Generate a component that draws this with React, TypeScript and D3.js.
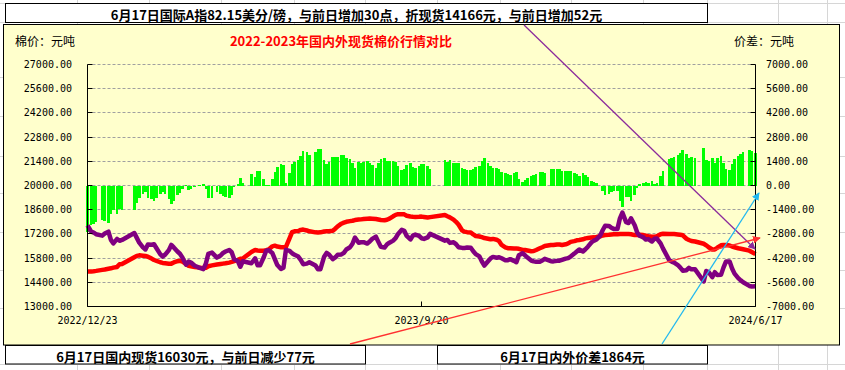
import React, { useEffect, useRef } from "react";
import * as d3 from "d3";

// trading days sampled from the chart (month -> days)
const tradeDays: [string, number[]][] = [
  ["2022-12", [23, 26, 28, 30]],
  ["2023-01", [4, 6, 9, 11, 13, 16, 18, 20, 30]],
  ["2023-02", [1, 3, 6, 8, 10, 13, 15, 17, 20, 22, 24, 27]],
  ["2023-03", [1, 3, 6, 8, 10, 13, 15, 17, 20, 22, 24, 27, 29, 31]],
  ["2023-04", [3, 7, 10, 12, 14, 17, 19, 21, 24, 26, 28]],
  ["2023-05", [5, 8, 10, 12, 15, 17, 19, 22, 24, 26, 29, 31]],
  ["2023-06", [2, 5, 7, 9, 12, 14, 16, 19, 21, 26, 28, 30]],
  ["2023-07", [3, 5, 7, 10, 12, 14, 17, 19, 21, 24, 26, 28, 31]],
  ["2023-08", [2, 4, 7, 9, 11, 14, 16, 18, 21, 23, 25, 28, 30]],
  ["2023-09", [1, 4, 6, 8, 11, 13, 15, 18, 20, 22, 25, 27]],
  ["2023-10", [9, 11, 13, 16, 18, 20, 23, 25, 27, 30]],
  ["2023-11", [1, 3, 6, 8, 10, 13, 15, 17, 20, 22, 24, 27, 29]],
  ["2023-12", [1, 4, 6, 8, 11, 13, 15, 18, 20, 22, 25, 27, 29]],
  ["2024-01", [3, 5, 8, 10, 12, 15, 17, 19, 22, 24, 26, 29, 31]],
  ["2024-02", [2, 5, 7, 9, 12, 14, 16, 19, 21, 23, 26, 28]],
  ["2024-03", [1, 4, 6, 8, 11, 13, 15, 18, 20, 22, 25, 27, 29]],
  ["2024-04", [1, 3, 8, 10, 12, 15, 17, 19, 22, 24, 26, 29]],
  ["2024-05", [6, 8, 10, 13, 15, 17, 20, 22, 24, 27, 29, 31]],
  ["2024-06", [3, 5, 7, 12, 14, 17]],
];

// 国内现货 (red)
const domestic = [
  15020, 15030, 15040, 15060,
  15120, 15140, 15180, 15210, 15250, 15290, 15440, 15460, 15850,
  15930, 15960, 15940, 15920, 15880, 15770, 15690, 15640, 15560, 15520, 15500, 15470,
  15480, 15550, 15620, 15640, 15600, 15440, 15360, 15330, 15290, 15270, 15250, 15220, 15240, 15330,
  15380, 15430, 15460, 15480, 15500, 15540, 15580, 15630, 15700, 15760, 15780,
  16150, 16270, 16240, 16230, 16230, 16260, 16300, 16480, 16520, 16470, 16430, 16430,
  16450, 16950, 17300, 17350, 17370, 17430, 17450, 17400, 17350, 17290, 17280, 17290,
  17340, 17350, 17350, 17380, 17500, 17640, 17790, 17850, 17900, 17940, 17960, 18000, 18030,
  18040, 18060, 18080, 18090, 18080, 18060, 18030, 18000, 17990, 18020, 18080, 18220, 18300,
  18340, 18340, 18330, 18250, 18210, 18190, 18180, 18190, 18200, 18180, 18150, 18170,
  18290, 18220, 18160, 18030, 17900, 17740, 17400, 17330, 17300, 17280,
  17170, 17080, 17050, 17010, 16960, 16920, 16890, 16910, 16860, 16780, 16560, 16420, 16370,
  16370, 16350, 16350, 16340, 16270, 16270, 16240, 16200, 16210, 16270, 16370, 16430, 16500,
  16560, 16560, 16590, 16590, 16560, 16600, 16650, 16740, 16780, 16830, 16850, 16890, 16940,
  16960, 16990, 17000, 17020, 17060, 17110, 17140, 17150, 17170, 17180, 17180, 17200,
  17200, 17200, 17190, 17180, 17130, 17140, 17150, 17130, 17100, 17070, 17040, 17030, 17060,
  17180, 17210, 17200, 17200, 17190, 17170, 17150, 17120, 16920, 16850, 16790, 16760,
  16630, 16540, 16430, 16300, 16300, 16400, 16540, 16560, 16560, 16530, 16470, 16430,
  16370, 16340, 16310, 16230, 16150, 16030,
];

// 国际A指折现货 (purple)
const international = [
  17700, 17330, 17280, 17180,
  17100, 17220, 17330, 16850, 16650, 16910, 16800, 16850, 17250,
  16970, 16690, 16420, 16300, 16590, 16570, 16600, 16370, 16030, 15890, 16000, 16260,
  16560, 16420, 16180, 16050, 15830, 15420, 15600, 15540, 15360, 15300, 15230, 15160, 15470, 16040,
  16120, 15830, 15950, 16100, 16180, 16270, 16140, 15730, 15630, 15300, 15620,
  15500, 15790, 15380, 15380, 15850, 16230, 16260, 16090, 15740, 15400, 15170, 15240,
  16280, 16220, 16080, 15990, 15890, 15700, 15450, 15480, 15560, 15370, 15150, 15160,
  15880, 16100, 16000, 15740, 15840, 16000, 16010, 16100, 16300, 16430, 16630, 16990, 16690,
  16720, 16720, 16640, 16760, 16910, 17040, 16740, 16450, 16410, 16590, 16690, 16810, 16950,
  17200, 17440, 17380, 17080, 16880, 17100, 17160, 17090, 16950, 16910, 17000, 17200,
  16810, 16850, 16680, 16720, 16610, 16430, 16390, 16390, 16410, 16400,
  16200, 16030, 15900, 15600, 15370, 15620, 15780, 15870, 15820, 15850, 15790, 15680, 15680,
  15740, 15640, 15560, 15970, 16080, 15960, 15830, 15660, 15610, 15590, 15590, 15660, 15760,
  15620, 15610, 15640, 15650, 15700, 15770, 15800, 15890, 16060, 16180, 16300, 16180, 16310,
  16460, 16720, 16810, 16880, 17100, 17410, 17670, 17660, 17560, 17490, 17490, 18100,
  18430, 17880, 17830, 18100, 17700, 17280, 17090, 17000, 16870, 16900, 16760, 16920, 16930,
  16650, 16350, 15680, 15600, 15540, 15400, 15250, 15070, 15100, 15240, 15150, 15150,
  14450, 15050, 14990, 14700, 14985, 14820, 14830, 15250, 15600, 15610, 15200, 14900,
  14640, 14510, 14400, 14190, 14160, 14166,
];

const leftTicks = [13000, 14400, 15800, 17200, 18600, 20000, 21400, 22800, 24200, 25600, 27000];
const rightTicks = [-7000, -5600, -4200, -2800, -1400, 0, 1400, 2800, 4200, 5600, 7000];
const xTickDates = ["2022-12-23", "2023-09-20", "2024-06-17"];
const xTickLabels = ["2022/12/23", "2023/9/20", "2024/6/17"];

const title = "2022-2023年国内外现货棉价行情对比";
const topNote = "6月17日国际A指82.15美分/磅，与前日增加30点，折现货14166元，与前日增加52元";
const leftNote = "6月17日国内现货16030元，与前日减少77元";
const rightNote = "6月17日内外价差1864元";

// spreadsheet cell lines behind the chart
const sheetCols = [77, 149, 221, 294, 365, 437, 500, 571, 643, 707, 778, 827];
const sheetRows = [3, 22, 77, 116, 156, 193, 232, 270, 308, 364];

function App() {
  const ref = useRef<SVGSVGElement>(null);

  useEffect(() => {
    drawChart();
  }, []);

  function drawChart() {
    const parse = d3.timeParse("%Y-%m-%d");
    const dates = tradeDays.flatMap(([m, ds]) => ds.map(d => parse(m + "-" + String(d).padStart(2, "0")) as Date));
    const data = dates.map((date, i) => ({
      date,
      dom: domestic[i],
      intl: international[i],
      diff: domestic[i] - international[i],
    }));

    const svg = d3.select(ref.current);
    svg.selectAll("*").remove();

    const cjk = "'Noto Sans CJK SC', sans-serif";
    const mono = "'DejaVu Sans Mono', monospace";
    const plot = { left: 87.5, right: 755.5, top: 64.5, bottom: 306.5 };

    const x = d3.scaleTime()
      .domain([parse(xTickDates[0]) as Date, parse(xTickDates[2]) as Date])
      .range([plot.left, plot.right]);
    const yL = d3.scaleLinear().domain([13000, 27000]).range([plot.bottom, plot.top]);
    const yR = d3.scaleLinear().domain([-7000, 7000]).range([plot.bottom, plot.top]);
    const crisp = (v: number) => Math.round(v - 0.5) + 0.5;

    // sheet grid
    const sheet = svg.append("g").attr("stroke", "#d6d6d6").attr("stroke-width", 1);
    sheetCols.forEach(c => {
      sheet.append("line").attr("x1", c + 0.5).attr("x2", c + 0.5).attr("y1", 0).attr("y2", 370);
    });
    sheetRows.forEach(r => {
      sheet.append("line").attr("x1", 0).attr("x2", 845).attr("y1", r + 0.5).attr("y2", r + 0.5);
    });

    // chart area
    svg.append("rect")
      .attr("x", 3.5).attr("y", 24.5).attr("width", 836).attr("height", 320.5)
      .attr("fill", "#FFFFCC").attr("stroke", "#000");

    // gridlines
    const grid = svg.append("g");
    leftTicks.slice(1).forEach(t => {
      grid.append("line")
        .attr("x1", plot.left).attr("x2", plot.right)
        .attr("y1", crisp(yL(t))).attr("y2", crisp(yL(t)))
        .attr("stroke", "#a0a0a0").attr("stroke-dasharray", "3,2");
    });

    // diff bars
    svg.append("g")
      .selectAll("rect")
      .data(data)
      .join("rect")
      .attr("x", d => x(d.date) - 1.3)
      .attr("width", 2.6)
      .attr("y", d => yR(Math.max(d.diff, 0)))
      .attr("height", d => Math.abs(yR(d.diff) - yR(0)))
      .attr("fill", "#00FF00")
      .attr("shape-rendering", "crispEdges");

    const lineDom = d3.line<any>().x(d => x(d.date)).y(d => yL(d.dom));
    const lineIntl = d3.line<any>().x(d => x(d.date)).y(d => yL(d.intl));

    svg.append("path").datum(data).attr("d", lineDom)
      .attr("fill", "none").attr("stroke", "#FF0000").attr("stroke-width", 4.5).attr("stroke-linejoin", "round");
    svg.append("path").datum(data).attr("d", lineIntl)
      .attr("fill", "none").attr("stroke", "#800080").attr("stroke-width", 4.5).attr("stroke-linejoin", "round");

    // axes frame
    const axis = svg.append("g").attr("stroke", "#000").attr("stroke-width", 1);
    axis.append("line").attr("x1", plot.left).attr("x2", plot.left).attr("y1", plot.top).attr("y2", plot.bottom);
    axis.append("line").attr("x1", plot.right).attr("x2", plot.right).attr("y1", plot.top).attr("y2", plot.bottom);
    axis.append("line").attr("x1", plot.left).attr("x2", plot.right).attr("y1", plot.bottom).attr("y2", plot.bottom);
    leftTicks.forEach(t => {
      axis.append("line").attr("x1", plot.left).attr("x2", plot.left + 5)
        .attr("y1", crisp(yL(t))).attr("y2", crisp(yL(t)));
    });
    rightTicks.forEach(t => {
      axis.append("line").attr("x1", plot.right - 5).attr("x2", plot.right)
        .attr("y1", crisp(yR(t))).attr("y2", crisp(yR(t)));
    });
    xTickDates.forEach(s => {
      const xx = crisp(x(parse(s) as Date));
      axis.append("line").attr("x1", xx).attr("x2", xx).attr("y1", plot.bottom - 5).attr("y2", plot.bottom);
    });

    // tick labels
    const labels = svg.append("g").attr("font-family", mono).attr("font-size", 10).attr("fill", "#000");
    leftTicks.forEach(t => {
      labels.append("text").attr("x", 72).attr("y", yL(t) + 3.5).attr("text-anchor", "end").text(t.toFixed(2));
    });
    rightTicks.forEach(t => {
      labels.append("text").attr("x", 766).attr("y", yR(t) + 3.5).text(t.toFixed(2));
    });
    xTickDates.forEach((s, i) => {
      labels.append("text").attr("x", x(parse(s) as Date)).attr("y", 324)
        .attr("text-anchor", "middle").text(xTickLabels[i]);
    });

    // titles
    svg.append("text").attr("x", 341).attr("y", 46).attr("text-anchor", "middle")
      .attr("font-family", cjk).attr("font-size", 13).attr("font-weight", "bold").attr("fill", "#FF0000")
      .text(title);
    svg.append("text").attr("x", 15).attr("y", 46)
      .attr("font-family", cjk).attr("font-size", 12).text("棉价：元吨");
    svg.append("text").attr("x", 734).attr("y", 46)
      .attr("font-family", cjk).attr("font-size", 12).text("价差：元吨");

    // annotation arrows drawn over the chart
    const defs = svg.append("defs");
    [["arrRed", "#FF3030"], ["arrBlue", "#22B8F0"], ["arrPurple", "#8B2A9B"]].forEach(([id, c]) => {
      defs.append("marker").attr("id", id).attr("viewBox", "0 0 10 10").attr("refX", 9).attr("refY", 5)
        .attr("markerWidth", 6).attr("markerHeight", 6).attr("orient", "auto")
        .append("path").attr("d", "M0,0 L10,5 L0,10 z").attr("fill", c);
    });
    svg.append("line").attr("x1", 524).attr("y1", 25).attr("x2", 755).attr("y2", 249)
      .attr("stroke", "#8B2A9B").attr("stroke-width", 1.3).attr("marker-end", "url(#arrPurple)");
    svg.append("line").attr("x1", 350).attr("y1", 344).attr("x2", 760).attr("y2", 238)
      .attr("stroke", "#FF3030").attr("stroke-width", 1.3).attr("marker-end", "url(#arrRed)");
    svg.append("line").attr("x1", 662).attr("y1", 344).attr("x2", 759).attr("y2", 193)
      .attr("stroke", "#22B8F0").attr("stroke-width", 1.3).attr("marker-end", "url(#arrBlue)");

    // note boxes
    const boxes = [
      { x: 5.5, y: 3.5, w: 702, h: 19, text: topNote, tx: 356.5, ty: 19.5 },
      { x: 5.5, y: 345.5, w: 360, h: 18.5, text: leftNote, tx: 185.5, ty: 362 },
      { x: 437.5, y: 345.5, w: 270, h: 18.5, text: rightNote, tx: 572.5, ty: 362 },
    ];
    boxes.forEach(b => {
      svg.append("rect").attr("x", b.x).attr("y", b.y).attr("width", b.w).attr("height", b.h)
        .attr("fill", "#fff").attr("stroke", "#000");
      svg.append("text").attr("x", b.tx).attr("y", b.ty).attr("text-anchor", "middle")
        .attr("font-family", cjk).attr("font-size", 13).attr("font-weight", "bold").text(b.text);
    });
  }

  return (
    <svg
      ref={ref}
      width={845}
      height={370}
      style={{ position: "absolute", left: 0, top: 0, background: "#fff" }}
    />
  );
}

export default App;
